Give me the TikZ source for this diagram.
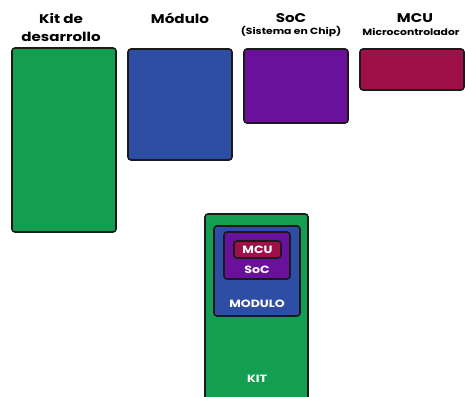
\documentclass[tikz,border=0pt]{standalone}
\usepackage{fontspec}
\setmainfont{Poppins}[FakeStretch=1.2]
\definecolor{kitgreen}{HTML}{139E52}
\definecolor{modblue}{HTML}{2E4DA5}
\definecolor{socpurple}{HTML}{6A119B}
\definecolor{mcured}{HTML}{9F1049}
\definecolor{edge}{HTML}{1A1A1A}
\tikzset{
  block/.style={draw=edge, line width=1.6pt, rounded corners=3pt, inner sep=0pt},
  title/.style={font=\bfseries\fontsize{12.6}{18}\selectfont, align=center, text=black, inner sep=0pt},
  subtitle/.style={font=\bfseries\fontsize{9}{10}\selectfont, text=black, inner sep=0pt},
  inlabel/.style={font=\bfseries\fontsize{10.5}{12}\selectfont, text=white, inner sep=0pt}
}
\begin{document}
\begin{tikzpicture}[x=1pt,y=-1pt]
\useasboundingbox (0,0) rectangle (465,396);
\clip (0,0) rectangle (465,396);

% row of separate blocks
\draw[block, fill=kitgreen]   (12,48)  rectangle (116,232);
\draw[block, fill=modblue]    (128,49) rectangle (232,160);
\draw[block, fill=socpurple]  (244,49) rectangle (348,123);
\draw[block, fill=mcured]     (360,49) rectangle (464,90);

% titles
\node[title] (tkit) at (61,27.5) {Kit de\\desarrollo};
\node[title] (tmod) at (180,18) {Módulo};
\node[title] (tsoc) at (291,18) {SoC};
\node[subtitle] (tsocs) at (291,32) {(Sistema en Chip)};
\node[title] (tmcu) at (415,18) {MCU};
\node[subtitle] (tmcus) at (411,32) {Microcontrolador};

% nested blocks
\draw[block, fill=kitgreen]   (205,214) rectangle (308,402);
\draw[block, fill=modblue]    (214,226) rectangle (300,316);
\draw[block, fill=socpurple]  (224,232) rectangle (290,279);
\draw[block, fill=mcured]     (234,241) rectangle (281,258);

\node[inlabel] (lmcu) at (257.5,250) {MCU};
\node[inlabel] (lsoc) at (257,269.5) {SoC};
\node[inlabel] (lmod) at (257,304) {MODULO};
\node[inlabel] (lkit) at (257,379) {KIT};
\end{tikzpicture}
\end{document}
